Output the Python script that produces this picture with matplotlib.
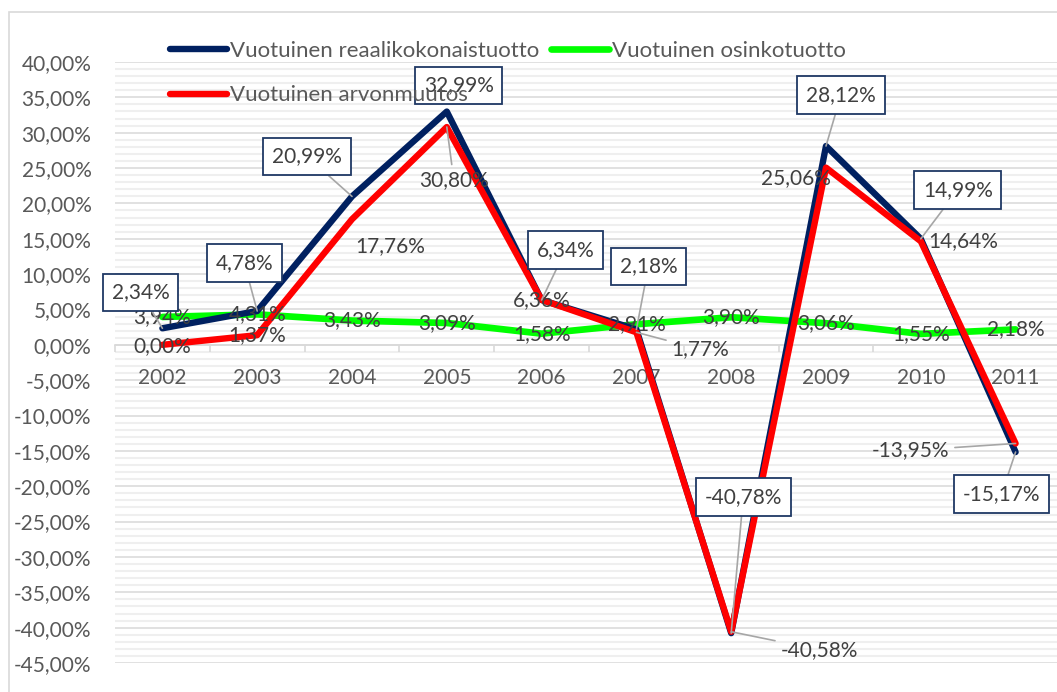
import numpy as np
import matplotlib
matplotlib.use("Agg")
import matplotlib.pyplot as plt
from matplotlib.patches import Rectangle

# datos ------------------------------------------------------------
vuodet = ['2002', '2003', '2004', '2005', '2006', '2007', '2008', '2009', '2010', '2011']
reaali = [2.34, 4.78, 20.99, 32.99, 6.34, 2.18, -40.78, 28.12, 14.99, -15.17]
osinko = [3.94, 4.31, 3.43, 3.09, 1.58, 2.91, 3.90, 3.06, 1.55, 2.18]
arvo = [0.00, 1.37, 17.76, 30.80, 6.36, 1.77, -40.58, 25.06, 14.64, -13.95]

nimet = ['Vuotuinen reaalikokonaistuotto', 'Vuotuinen osinkotuotto', 'Vuotuinen arvonmuutos']

# posiciones de las etiquetas (pixeles respecto al punto)
off_reaali = [(-22, 36), (-13, 48), (-45, 40), (12, 26), (24, 50),
              (12, 63), (12, 136), (15, 51), (37, 49), (-14, -42)]
off_arvo = [(0, -1), (0, 0), (38, -27), (7, -53), (0, 0),
            (64, -17), (88, -18), (-30, -10), (42, 0), (-105, -7)]
leader_arvo = [False, False, False, True, False, True, True, False, False, True]
leader_reaali = [True, True, True, False, True, True, True, True, True, True]

NAVY = '#002060'
RED = '#FF0000'
GREEN = '#00FF00'
TXT = '#404040'
TICK = '#595959'
LEAD = '#A6A6A6'

plt.rcParams['font.family'] = ['Lato', 'DejaVu Sans']
FS = 15
FS_LEG = 16

W, H = 1057, 692
fig = plt.figure(figsize=(W / 100, H / 100), dpi=100)
fig.patches.append(Rectangle((9 / W, -0.1), 1.2, 1.1 - 12 / H,
                             transform=fig.transFigure, fill=False,
                             edgecolor='#D9D9D9', lw=1.2))

ax = fig.add_axes([115 / W, 29 / H, 948 / W, 601 / H])
x = np.arange(len(vuodet))

ax.set_xlim(-0.5, len(vuodet) - 0.5)
ax.set_ylim(-45, 40)

# rejilla
for v in range(-45, 41):
    if v % 5 == 0:
        ax.axhline(v, color='#D9D9D9', lw=1.1, zorder=0)
    else:
        ax.axhline(v, color='#EFEFEF', lw=1.5, zorder=0)

for s in ['top', 'right', 'left']:
    ax.spines[s].set_visible(False)
ax.spines['bottom'].set_position(('data', 0))
ax.spines['bottom'].set_color('#D9D9D9')
ax.spines['bottom'].set_linewidth(1.2)

ax.set_xticks(x)
ax.set_xticklabels(vuodet, fontsize=FS, color=TICK)
ax.set_xticks(np.arange(-0.5, len(vuodet)), minor=True)
ax.tick_params(axis='x', which='major', length=0, pad=16.5)
ax.tick_params(axis='x', which='minor', length=5, color='#D9D9D9', width=1.2)

ax.set_yticks(np.arange(-45, 41, 5))
ax.set_yticklabels(['{:.2f}%'.format(v).replace('.', ',') for v in np.arange(-45, 41, 5)],
                   fontsize=FS, color=TICK)
ax.tick_params(axis='y', length=0, pad=17)

# lineas
l1, = ax.plot(x, reaali, color=NAVY, lw=4.6, solid_capstyle='round', zorder=3, label=nimet[0])
l2, = ax.plot(x, osinko, color=GREEN, lw=4.8, solid_capstyle='round', zorder=2, label=nimet[1])
l3, = ax.plot(x, arvo, color=RED, lw=4.6, solid_capstyle='round', zorder=3.5, label=nimet[2])


def fmt(v):
    return '{:.2f}%'.format(v).replace('.', ',')


# etiquetas
for i in range(len(vuodet)):
    ax.annotate(fmt(osinko[i]), (x[i], osinko[i]), xytext=(0, 0), textcoords='offset pixels',
                ha='center', va='center', fontsize=FS, color=TXT, zorder=5)

for i in range(len(vuodet)):
    ap = dict(arrowstyle='-', color=LEAD, lw=1.2, shrinkA=2, shrinkB=0) if leader_arvo[i] else None
    ax.annotate(fmt(arvo[i]), (x[i], arvo[i]), xytext=off_arvo[i], textcoords='offset pixels',
                ha='center', va='center', fontsize=FS, color=TXT, zorder=5, arrowprops=ap)

for i in range(len(vuodet)):
    ap = dict(arrowstyle='-', color=LEAD, lw=1.2, shrinkA=0, shrinkB=0) if leader_reaali[i] else None
    ax.annotate(fmt(reaali[i]), (x[i], reaali[i]), xytext=off_reaali[i], textcoords='offset pixels',
                ha='center', va='center', fontsize=FS, color=TXT, zorder=5, arrowprops=ap,
                bbox=dict(boxstyle='square,pad=0.42', fc='white', ec='#1F3864', lw=1.3))

leg = ax.legend([l1, l3, l2], [nimet[0], nimet[2], nimet[1]], ncol=2, loc='upper left',
                bbox_to_anchor=(170 / W, 1 - 41 / H), bbox_transform=fig.transFigure,
                frameon=False, fontsize=FS_LEG, labelcolor=TICK, borderpad=0, borderaxespad=0,
                handlelength=2.57, handletextpad=0.14, columnspacing=0.54, labelspacing=1.1)
leg.set_zorder(10)

fig.savefig('out.png', dpi=100)
